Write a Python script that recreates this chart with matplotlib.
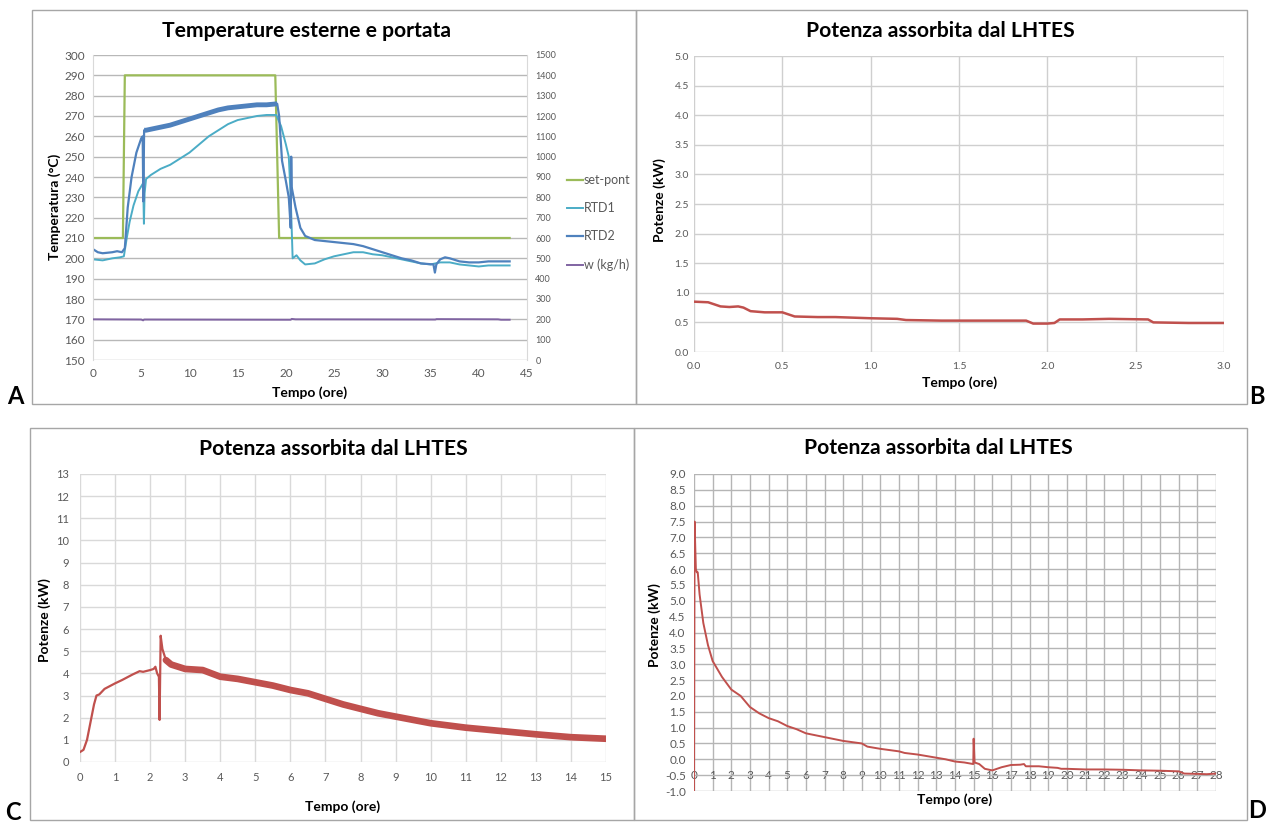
import matplotlib
matplotlib.use("Agg")
import matplotlib.pyplot as plt
import numpy as np
from matplotlib.patches import Rectangle

plt.rcParams['font.family'] = ['Lato', 'DejaVu Sans']
plt.rcParams['axes.unicode_minus'] = False

# ---------------- data: panel A ----------------
sp_t = [0, 3.1, 3.3, 18.9, 19.3, 43.2]
sp_v = [210, 210, 290, 290, 210, 210]

rtd1_t = [0, 1, 2, 2.8, 3.2, 3.5, 3.8, 4.2, 4.7, 5.2, 5.28, 5.35, 5.5, 6, 7, 8, 9, 10, 11, 12,
          13, 14, 15, 16, 17, 18, 19.0, 19.5, 20, 20.3, 20.5, 20.6, 20.7, 21.1, 21.5, 22, 23,
          24, 25, 26, 27, 28, 29, 30, 31, 32, 33, 34, 35, 35.5, 36, 37, 38, 39, 40, 41, 42, 43.2]
rtd1_v = [199.5, 199, 200, 200.5, 201, 210, 218, 226, 233, 237, 217, 232, 239, 241, 244, 246, 249,
          252, 256, 260, 263, 266, 268, 269, 270, 270.5, 270.5, 265, 256, 250, 230, 215, 200,
          201.5, 199, 197, 197.5, 199.5, 201, 202, 203, 203, 202, 201.5, 200.5, 199.5, 198.5,
          197.5, 197, 197.5, 198, 198, 197, 196.5, 196, 196.5, 196.5, 196.5]

rtd2_t = [0, 0.5, 1, 2, 2.5, 3.0, 3.3, 3.6, 4.0, 4.5, 5.0, 5.15, 5.22, 5.3, 5.5, 6, 7, 8, 9, 10,
          11, 12, 13, 14, 15, 16, 17, 18, 19.1, 19.3, 19.6, 20, 20.3, 20.5, 20.55, 20.6, 21,
          21.5, 22, 23, 25, 27, 28, 30, 32, 33, 34, 35.3, 35.45, 35.6, 36, 36.5, 37, 38, 39,
          40, 41, 42, 43.2]
rtd2_v = [204.5, 203, 202.5, 203, 203.5, 203, 205, 225, 240, 252, 259, 260, 228, 263, 263,
          263.5, 264.5, 265.5, 267, 268.5, 270, 271.5, 273, 274, 274.5, 275, 275.5, 275.5, 276,
          270, 248, 238, 230, 215, 250, 235, 225, 215, 211, 209, 208, 207, 206, 203, 200, 199,
          197.5, 197, 193, 197, 199.5, 200.5, 200, 198.5, 198, 198, 198.5, 198.5, 198.5]

w_t = [0, 5, 5.2, 5.3, 20.5, 20.6, 21, 35.5, 35.6, 42, 42.3, 43.2]
w_v = [200, 199, 195, 199, 198, 202, 200, 199, 201, 200, 198, 198]

# ---------------- data: panel B ----------------
b_t = [0, 0.08, 0.1, 0.15, 0.2, 0.25, 0.28, 0.32, 0.4, 0.5, 0.52, 0.57, 0.7, 0.8, 1.0, 1.15,
       1.2, 1.4, 1.5, 1.7, 1.88, 1.92, 2.0, 2.04, 2.07, 2.2, 2.35, 2.57, 2.6, 2.8, 3.0]
b_v = [0.85, 0.84, 0.82, 0.77, 0.76, 0.77, 0.75, 0.69, 0.67, 0.67, 0.65, 0.60, 0.59, 0.59,
       0.57, 0.56, 0.54, 0.53, 0.53, 0.53, 0.53, 0.48, 0.48, 0.49, 0.55, 0.55, 0.56, 0.55,
       0.50, 0.49, 0.49]

# ---------------- data: panel C ----------------
c_t = [0, 0.1, 0.2, 0.3, 0.4, 0.47, 0.55, 0.7, 1, 1.2, 1.5, 1.7, 1.8, 2.0, 2.1, 2.15, 2.2,
       2.25, 2.27, 2.3, 2.35, 2.45, 2.6, 3, 3.5, 4, 4.5, 5, 5.5, 6, 6.5, 7, 7.5, 8, 8.5, 9,
       9.5, 10, 11, 12, 13, 14, 15]
c_v = [0.45, 0.55, 1.0, 1.8, 2.6, 3.0, 3.05, 3.3, 3.55, 3.7, 3.95, 4.1, 4.07, 4.15, 4.2, 4.3,
       4.0, 3.85, 1.9, 5.7, 5.1, 4.6, 4.4, 4.2, 4.15, 3.85, 3.75, 3.6, 3.45, 3.25, 3.1, 2.85,
       2.6, 2.4, 2.2, 2.05, 1.9, 1.75, 1.55, 1.4, 1.25, 1.12, 1.05]

# ---------------- data: panel D ----------------
d_t = [0, 0.03, 0.1, 0.15, 0.2, 0.3, 0.5, 0.75, 1, 1.5, 2, 2.5, 3, 3.5, 4, 4.5, 5, 5.5, 6, 7,
       8, 9, 9.3, 10, 11, 11.3, 12, 13, 13.5, 14, 14.5, 14.98, 15.0, 15.05, 15.3, 15.6, 16,
       16.5, 17, 17.5, 17.7, 17.8, 18.5, 19, 19.5, 19.7, 20, 21, 22, 23, 24, 25, 26, 26.3,
       27, 27.5, 28]
d_v = [-1.0, 7.5, 6.0, 5.9, 5.9, 5.2, 4.3, 3.6, 3.1, 2.6, 2.2, 2.0, 1.65, 1.45, 1.3, 1.2,
       1.05, 0.95, 0.82, 0.7, 0.58, 0.5, 0.4, 0.33, 0.25, 0.2, 0.15, 0.05, 0.0, -0.07, -0.1,
       -0.15, 0.65, -0.1, -0.15, -0.3, -0.35, -0.25, -0.18, -0.17, -0.15, -0.22, -0.22,
       -0.25, -0.27, -0.3, -0.3, -0.32, -0.32, -0.33, -0.35, -0.36, -0.38, -0.45, -0.46,
       -0.47, -0.45]

titleA = "Temperature esterne e portata"
titleP = "Potenza assorbita dal LHTES"
xlab = "Tempo (ore)"
ylabA = "Temperatura (°C)"
ylabP = "Potenze (kW)"
legend_labels = ["set-pont", "RTD1", "RTD2", "w (kg/h)"]

# ---------------- figure ----------------
W, H = 1269, 823
fig = plt.figure(figsize=(W / 100, H / 100), dpi=100)


def box(l, t, r, b):
    return [l / W, 1 - b / H, (r - l) / W, (b - t) / H]


def fx(x):
    return x / W


def fy(y):
    return 1 - y / H


TICKC = '#595959'
RED = '#c0504d'
TSIZE = 15.2
LSIZE = 10

# frames
for (l, t, r, b) in [(32, 10, 636, 404), (636, 10, 1247, 404), (30, 428, 634, 820), (634, 428, 1247, 820)]:
    fig.patches.append(Rectangle((fx(l), fy(b)), (r - l) / W, (b - t) / H, transform=fig.transFigure,
                                 fill=False, edgecolor='#a6a6a6', lw=1.0))

for s, x, y in [("A", 15, 397), ("B", 1257, 396), ("C", 13, 813), ("D", 1257, 810)]:
    fig.text(fx(x), fy(y), s, ha='center', va='center', fontsize=17, fontweight='bold', color='black')


def style(ax, gridc='#d0d0d0', xgrid=True):
    for sp in ax.spines.values():
        sp.set_visible(False)
    ax.tick_params(length=0, colors=TICKC, labelsize=8)
    ax.grid(True, axis='y', color=gridc, lw=1.0)
    if xgrid:
        ax.grid(True, axis='x', color=gridc, lw=1.0)
    ax.set_axisbelow(True)


# ---------------- Panel A ----------------
axA = fig.add_axes(box(93, 55, 527, 360))
style(axA, gridc='#b8b8b8', xgrid=False)
axA.set_xlim(0, 45)
axA.set_ylim(150, 300)
axA.set_xticks(np.arange(0, 46, 5))
axA.set_yticks(np.arange(150, 301, 10))
axA.spines['left'].set_visible(True)
axA.spines['left'].set_color('#d9d9d9')
axA.tick_params(axis='y', pad=6, labelsize=8.5)
axA.tick_params(axis='x', pad=6, labelsize=8.5)
axB2 = axA.twinx()
for sp in axB2.spines.values():
    sp.set_visible(False)
axB2.spines['right'].set_visible(True)
axB2.spines['right'].set_color('#d9d9d9')
axB2.set_ylim(0, 1500)
axB2.set_yticks(np.arange(0, 1501, 100))
axB2.tick_params(length=0, colors=TICKC, labelsize=6.5, pad=6)

h1, = axA.plot(sp_t, sp_v, color='#9bbb59', lw=1.6)
h2, = axA.plot(rtd1_t, rtd1_v, color='#4bacc6', lw=1.4)
h3, = axA.plot(rtd2_t, rtd2_v, color='#4f81bd', lw=1.6)
r2t = np.array(rtd2_t)
r2v = np.array(rtd2_v)
m = (r2t >= 5.3) & (r2t <= 19.1)
axA.plot(r2t[m], r2v[m], color='#4f81bd', lw=3.5, solid_capstyle='butt')
h4, = axB2.plot(w_t, w_v, color='#8064a2', lw=1.4)

fig.legend([h1, h2, h3, h4], legend_labels, loc='upper left', bbox_to_anchor=(fx(567), fy(174)),
           frameon=False, fontsize=9, labelspacing=1.3, handlelength=1.25, handletextpad=0.1,
           borderaxespad=0, borderpad=0, labelcolor=TICKC)

fig.text(fx(306), fy(31), titleA, ha='center', va='center', fontsize=TSIZE, fontweight='bold')
fig.text(fx(310), fy(393), xlab, ha='center', va='center', fontsize=LSIZE, fontweight='bold')
fig.text(fx(55), fy(207), ylabA, ha='center', va='center', rotation=90, fontsize=LSIZE, fontweight='bold')

# ---------------- Panel B ----------------
axB = fig.add_axes(box(694, 56, 1224, 352))
style(axB, gridc='#cfcfcf')
axB.set_xlim(0, 3)
axB.set_ylim(0, 5)
axB.set_xticks(np.arange(0, 3.01, 0.5))
axB.set_yticks(np.arange(0, 5.01, 0.5))
axB.xaxis.set_major_formatter(matplotlib.ticker.FormatStrFormatter('%.1f'))
axB.yaxis.set_major_formatter(matplotlib.ticker.FormatStrFormatter('%.1f'))
axB.tick_params(labelsize=7.5)
axB.tick_params(axis='x', pad=7)
axB.plot(b_t, b_v, color=RED, lw=1.8)
fig.text(fx(940), fy(31), titleP, ha='center', va='center', fontsize=TSIZE, fontweight='bold')
fig.text(fx(960), fy(383), xlab, ha='center', va='center', fontsize=LSIZE, fontweight='bold')
fig.text(fx(660), fy(200), ylabP, ha='center', va='center', rotation=90, fontsize=LSIZE, fontweight='bold')

# ---------------- Panel C ----------------
axC = fig.add_axes(box(80, 474, 606, 762))
style(axC, gridc='#d9d9d9')
axC.set_xlim(0, 15)
axC.set_ylim(0, 13)
axC.set_xticks(np.arange(0, 16, 1))
axC.set_yticks(np.arange(0, 14, 1))
axC.tick_params(labelsize=8)
axC.tick_params(axis='x', pad=7)
axC.tick_params(axis='y', pad=8)
ct = np.array(c_t)
cv = np.array(c_v)
axC.plot(ct, cv, color=RED, lw=1.6)
mc = ct >= 2.45
axC.plot(ct[mc], cv[mc], color=RED, lw=4.8, solid_capstyle='round', solid_joinstyle='round')
fig.text(fx(333), fy(449), titleP, ha='center', va='center', fontsize=TSIZE, fontweight='bold')
fig.text(fx(343), fy(807), xlab, ha='center', va='center', fontsize=LSIZE, fontweight='bold')
fig.text(fx(45), fy(620), ylabP, ha='center', va='center', rotation=90, fontsize=LSIZE, fontweight='bold')

# ---------------- Panel D ----------------
axD = fig.add_axes(box(694, 474, 1216, 791))
style(axD, gridc='#b5b5b5')
axD.set_xlim(0, 28)
axD.set_ylim(-1, 9)
axD.set_xticks(np.arange(0, 29, 1))
axD.set_yticks(np.arange(-1, 9.01, 0.5))
axD.yaxis.set_major_formatter(matplotlib.ticker.FormatStrFormatter('%.1f'))
axD.spines['bottom'].set_position(('data', -0.5))
axD.spines['bottom'].set_visible(False)
axD.tick_params(labelsize=8.5)
axD.tick_params(axis='x', pad=-4, labelsize=8.5)
axD.tick_params(axis='y', pad=6)
axD.plot(d_t, d_v, color=RED, lw=1.4)
fig.text(fx(938), fy(448), titleP, ha='center', va='center', fontsize=TSIZE, fontweight='bold')
fig.text(fx(955), fy(800), xlab, ha='center', va='center', fontsize=LSIZE, fontweight='bold')
fig.text(fx(655), fy(625), ylabP, ha='center', va='center', rotation=90, fontsize=LSIZE, fontweight='bold')

fig.savefig("out.png", dpi=100)
